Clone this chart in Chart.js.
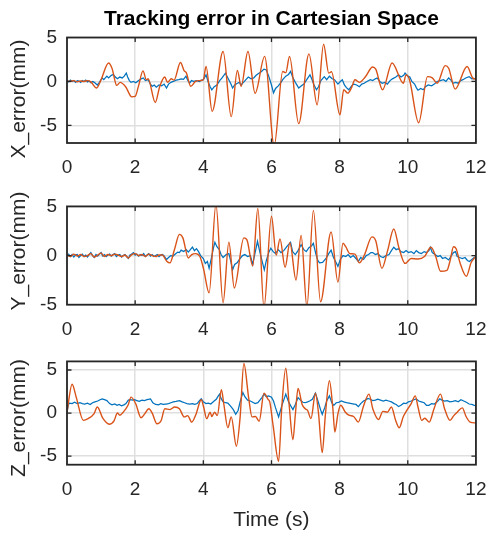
<!DOCTYPE html>
<html>
<head>
<meta charset="utf-8">
<script src="https://cdn.jsdelivr.net/npm/chart.js@4.4.1/dist/chart.umd.min.js"></script>
<style>
html,body{margin:0;padding:0;background:#fff;}
#wrap{position:relative;width:500px;height:533px;overflow:hidden;}
canvas{position:absolute;left:0;}
</style>
</head>
<body>
<div id="wrap">
<canvas id="c1" width="500" height="185" style="top:0px"></canvas>
<canvas id="c2" width="500" height="155" style="top:185px"></canvas>
<canvas id="c3" width="500" height="193" style="top:340px"></canvas>
</div>
<script>
// ---------- DATA ----------
const titleText = "Tracking error in Cartesian Space";
const xTicks = [0, 2, 4, 6, 8, 10, 12];
const yTicks = [-5, 0, 5];
const yLabels = ["X_error(mm)", "Y_error(mm)", "Z_error(mm)"];
const xLabel = "Time (s)";

// X error: orange series
const xOrangeT = [0,0.1,0.2,0.3,0.4,0.5,0.6,0.7,0.87,1.0,1.22,1.32,1.46,1.56,1.72,1.9,2.0,2.1,2.23,2.33,2.38,2.59,2.72,2.87,2.95,3.06,3.14,3.33,3.44,3.5,3.63,3.77,3.9,4.0,4.08,4.26,4.58,4.82,5.0,5.11,5.31,5.52,5.8,6.08,6.33,6.42,6.53,6.8,7.1,7.34,7.53,7.68,7.76,8.01,8.12,8.24,8.35,8.45,8.58,8.75,8.97,9.06,9.26,9.54,9.87,9.95,10.05,10.32,10.58,10.72,10.86,11.1,11.2,11.39,11.74,11.91,12];
const xOrangeV = [0.05,0.0,0.1,-0.05,0.05,0.0,0.1,-0.05,-0.75,0.2,2.1,1.5,-0.45,-0.1,-0.6,-1.75,-1.7,-0.5,1.2,0.2,0.3,-2.4,-0.6,0.5,-0.1,0.3,0.15,2.15,1.2,1.0,-0.55,0.0,0.1,0.2,1.7,-3.4,3.4,-4.0,1.25,-0.55,3.4,-1.35,2.85,-7.3,1.14,1.0,2.84,-4.8,3.14,-2.65,4.24,0.95,1.1,-3.8,-0.95,-1.33,-0.7,0.2,-0.1,0.5,1.65,1.4,-0.95,2.1,-0.2,0.75,0.2,-4.7,0.55,0.4,-0.2,1.8,1.5,-0.87,1.7,0.38,0.27];
// X error: blue series
const xBlueT = [0,0.05,0.1,0.15,0.2,0.25,0.3,0.35,0.4,0.45,0.5,0.55,0.6,0.65,0.7,0.75,0.8,0.89,0.95,1.03,1.08,1.17,1.22,1.3,1.36,1.42,1.48,1.55,1.62,1.68,1.74,1.78,1.83,1.88,1.95,2.02,2.1,2.18,2.24,2.3,2.38,2.45,2.5,2.56,2.62,2.7,2.78,2.85,2.92,2.98,3.05,3.12,3.2,3.28,3.35,3.42,3.49,3.55,3.6,3.65,3.72,3.8,3.88,3.95,4.0,4.08,4.14,4.2,4.25,4.32,4.4,4.48,4.55,4.65,4.72,4.8,4.86,4.92,5.0,5.06,5.1,5.18,5.25,5.32,5.4,5.48,5.55,5.62,5.7,5.78,5.85,5.92,6.0,6.06,6.12,6.2,6.28,6.33,6.42,6.5,6.56,6.62,6.7,6.8,6.88,6.95,7.05,7.13,7.18,7.25,7.32,7.38,7.45,7.55,7.62,7.7,7.78,7.85,7.95,8.02,8.08,8.14,8.2,8.27,8.35,8.42,8.5,8.58,8.65,8.72,8.8,8.9,8.97,9.05,9.1,9.18,9.25,9.32,9.4,9.48,9.55,9.65,9.73,9.8,9.88,9.92,10.0,10.06,10.12,10.2,10.25,10.3,10.38,10.45,10.52,10.6,10.7,10.78,10.86,10.95,11.05,11.12,11.2,11.28,11.33,11.4,11.48,11.55,11.62,11.7,11.8,11.88,12];
const xBlueV = [0.1,-0.05,0.15,0.0,0.1,-0.1,0.1,0.05,-0.1,0.1,0.0,0.15,-0.05,0.05,-0.15,0.0,-0.1,-0.4,-0.1,0.4,0.2,0.6,0.4,0.7,0.8,0.5,0.3,0.5,0.4,0.6,0.95,0.5,0.1,-0.1,0.0,-0.15,0.1,0.3,0.4,0.1,0.2,-0.3,-0.55,-0.4,-0.65,-0.4,-0.5,-0.3,-0.75,-0.3,-0.1,0.0,0.15,0.2,0.3,0.25,0.6,0.1,-0.2,0.1,0.0,0.1,0.0,0.15,0.2,0.75,0.0,-0.6,-0.95,-0.6,-0.4,0.1,0.4,0.95,0.4,-0.2,-0.75,-0.4,-0.2,-0.1,-0.4,-0.1,0.2,0.5,0.3,0.4,0.7,0.9,1.1,1.4,1.3,0.6,-0.4,-1.3,-0.8,-0.5,-0.1,0.2,0.6,0.8,1.15,0.5,-0.1,-0.75,-0.5,-0.3,0.3,0.75,0.3,-0.4,-0.95,-0.6,0.1,0.55,0.2,0.6,0.3,0.2,-0.3,0.0,0.2,-0.4,-0.7,-0.95,-0.5,-0.3,-0.4,-0.6,-0.3,-0.2,0.0,0.2,0.1,0.3,0.4,0.0,-0.2,-0.1,-0.3,0.1,0.3,0.5,0.75,0.5,0.7,0.95,0.6,0.5,0.0,-0.3,-0.7,-1.0,-0.8,-0.95,-0.6,-0.4,-0.5,-0.3,0.0,0.1,0.2,0.0,0.4,0.1,-0.2,-0.1,-0.2,0.1,0.2,0.4,0.55,0.3,0.35];

// Y error: orange series
const yOrangeT = [0,0.1,0.2,0.3,0.4,0.5,0.6,0.7,0.8,0.9,1.0,1.1,1.2,1.3,1.4,1.5,1.6,1.7,1.8,1.9,2.0,2.1,2.2,2.3,2.4,2.5,2.6,2.7,2.8,2.92,3.02,3.16,3.3,3.4,3.56,3.66,3.77,3.9,4.01,4.17,4.37,4.58,4.75,4.91,5.19,5.28,5.45,5.6,5.78,6.0,6.14,6.25,6.4,6.54,6.72,6.87,7.04,7.23,7.44,7.75,7.95,8.1,8.18,8.3,8.45,8.58,8.72,8.95,9.06,9.24,9.4,9.59,9.74,9.92,10.1,10.3,10.49,10.68,10.82,10.96,11.15,11.25,11.34,11.42,11.53,11.72,11.86,12];
const yOrangeV = [0.1,-0.1,0.15,-0.05,0.1,-0.1,0.0,0.2,-0.15,0.05,0.25,-0.1,0.1,0.0,0.15,0.05,-0.1,0.05,-0.25,0.1,0.2,0.0,0.1,-0.1,0.15,0.0,-0.1,0.05,0.05,-0.55,-0.75,0.7,2.15,1.8,-0.25,0.1,0.2,-0.1,-1.4,-3.8,5.2,-4.8,1.35,-3.3,1.8,1.6,-1.05,4.8,-5.3,4.0,0.05,1.7,-1.2,1.3,-2.5,2.05,-5.2,4.6,-4.7,2.4,-2.7,1.25,0.9,0.2,0.15,-0.75,0.0,1.9,1.5,-1.3,0.4,2.7,0.8,-0.8,-0.3,-0.35,-0.1,0.85,-0.1,-1.6,-1.5,-0.4,0.9,0.7,-0.7,-2.1,-0.7,-0.1];
// Y error: blue series
const yBlueT = [0,0.05,0.1,0.15,0.2,0.25,0.3,0.35,0.4,0.45,0.5,0.55,0.6,0.65,0.7,0.75,0.8,0.85,0.9,0.95,1.0,1.05,1.1,1.15,1.2,1.25,1.3,1.35,1.4,1.45,1.5,1.55,1.6,1.65,1.7,1.75,1.8,1.85,1.9,1.95,2.0,2.05,2.1,2.15,2.2,2.25,2.3,2.35,2.4,2.45,2.5,2.55,2.6,2.65,2.7,2.75,2.8,2.85,2.92,2.98,3.05,3.1,3.18,3.25,3.3,3.35,3.42,3.5,3.56,3.62,3.68,3.74,3.8,3.86,3.92,4.0,4.06,4.12,4.17,4.24,4.3,4.34,4.4,4.47,4.52,4.58,4.67,4.75,4.8,4.86,4.92,5.0,5.08,5.15,5.22,5.3,5.38,5.45,5.52,5.59,5.65,5.72,5.79,5.85,5.92,5.98,6.05,6.12,6.2,6.28,6.36,6.45,6.56,6.62,6.7,6.78,6.87,6.95,7.02,7.1,7.18,7.23,7.3,7.36,7.41,7.5,7.6,7.68,7.75,7.82,7.88,7.95,8.02,8.1,8.18,8.25,8.32,8.4,8.48,8.55,8.62,8.7,8.78,8.85,8.92,8.97,9.05,9.12,9.2,9.28,9.36,9.45,9.52,9.59,9.66,9.72,9.8,9.88,9.95,10.02,10.1,10.18,10.25,10.32,10.4,10.48,10.55,10.62,10.66,10.72,10.8,10.88,10.95,11.02,11.1,11.2,11.28,11.34,11.4,11.45,11.52,11.6,11.68,11.75,11.81,11.88,11.95,12];
const yBlueV = [0.0,0.15,-0.1,0.1,-0.15,0.05,0.1,-0.2,0.0,0.15,-0.1,0.05,-0.15,0.1,0.3,0.0,-0.2,0.1,-0.05,0.15,0.3,-0.05,0.1,-0.1,0.05,0.15,-0.05,0.1,0.2,-0.1,0.05,0.1,-0.15,0.0,0.1,-0.1,-0.3,0.05,0.15,0.3,0.05,0.15,-0.05,0.1,0.0,0.2,-0.1,0.05,0.2,-0.05,0.1,-0.1,0.0,0.1,-0.1,0.05,0.1,-0.05,-0.4,-0.2,0.0,-0.1,0.15,0.35,0.3,0.55,0.4,0.6,0.35,0.6,0.85,0.5,0.7,0.4,0.0,-0.3,-0.8,-0.6,-1.3,-0.2,0.8,1.35,0.9,0.6,0.1,-0.2,0.1,0.2,-0.5,-1.45,-0.9,-0.7,-0.3,0.0,0.1,-0.1,0.0,-0.9,0.3,1.45,0.5,-0.5,-1.45,-0.5,0.3,0.75,0.4,0.2,0.6,0.3,0.5,0.9,1.35,0.4,0.1,0.5,1.1,0.6,0.4,0.8,1.0,1.25,0.2,-0.5,-0.75,-0.7,-0.3,0.2,0.55,-0.2,-0.6,-1.1,-0.4,0.0,-0.1,0.1,-0.2,0.0,-0.3,-0.6,-0.2,-0.4,0.0,0.1,0.3,0.3,0.1,0.2,-0.1,-0.2,0.0,0.1,0.5,0.85,0.6,0.7,0.4,0.3,0.5,0.3,0.4,0.2,0.5,0.3,0.2,0.4,0.3,0.5,0.85,0.3,0.1,-0.1,0.0,-0.3,-0.2,-0.45,0.0,0.3,0.4,-0.1,-0.2,-0.3,-0.2,-0.5,-0.6,-0.4,-0.2,-0.1];

// Z error: orange series
const zOrangeT = [0,0.15,0.27,0.48,0.62,0.79,0.89,1.05,1.24,1.38,1.48,1.55,1.65,1.79,1.88,2.02,2.17,2.28,2.4,2.5,2.64,2.76,2.87,3.02,3.16,3.3,3.44,3.54,3.66,3.78,3.94,4.01,4.1,4.2,4.25,4.33,4.41,4.53,4.6,4.72,4.82,4.97,5.08,5.19,5.33,5.43,5.53,5.64,5.78,5.9,5.95,6.05,6.21,6.3,6.42,6.52,6.63,6.7,6.78,6.9,6.99,7.06,7.16,7.29,7.38,7.49,7.58,7.7,7.8,7.86,7.95,8.03,8.17,8.27,8.41,8.55,8.7,8.86,8.98,9.14,9.27,9.4,9.52,9.64,9.75,9.87,9.97,10.1,10.22,10.3,10.41,10.5,10.63,10.77,10.96,11.08,11.24,11.35,11.45,11.6,11.71,11.83,12];
const zOrangeV = [0.1,3.35,1.85,-0.85,-0.65,-0.1,0.7,-0.6,-1.3,-0.9,0.0,-0.25,0.1,0.9,1.85,1.05,-0.55,-0.1,0.5,0.0,-1.25,-0.9,0.5,0.4,0.7,0.5,-0.45,-0.3,-1.05,-0.2,1.55,0.7,-0.65,0.1,-0.4,0.1,-0.3,2.7,1.1,-1.7,-0.45,-3.85,-0.5,5.75,1.8,-0.45,-0.4,-0.95,2.3,1.6,1.3,-1.5,-5.6,0.5,5.2,0.9,-3.1,-0.2,2.85,1.0,0.5,0.3,-0.65,2.3,0.0,-4.6,-0.3,3.75,0.6,-2.2,-0.1,0.9,0.1,-0.25,-0.4,-1.05,0.8,2.2,0.4,-0.75,0.2,0.1,0.7,-0.8,-1.7,-0.4,0.3,1.1,2.0,0.7,-0.85,-0.6,-1.05,0.5,2.2,0.5,-0.85,-0.3,0.1,0.6,-0.4,-1.05,-1.15];
// Z error: blue series
const zBlueT = [0,0.04,0.08,0.15,0.22,0.3,0.38,0.45,0.52,0.6,0.68,0.75,0.82,0.9,0.97,1.03,1.1,1.17,1.25,1.32,1.4,1.47,1.53,1.6,1.67,1.73,1.8,1.86,1.93,1.98,2.05,2.12,2.2,2.27,2.35,2.45,2.52,2.6,2.69,2.75,2.82,2.9,2.98,3.05,3.12,3.2,3.3,3.38,3.45,3.52,3.6,3.68,3.75,3.82,3.88,3.94,4.0,4.08,4.15,4.22,4.3,4.38,4.44,4.48,4.52,4.58,4.65,4.72,4.8,4.88,4.95,5.02,5.08,5.16,5.22,5.3,5.38,5.45,5.52,5.6,5.66,5.72,5.78,5.85,5.92,6.0,6.06,6.12,6.21,6.3,6.36,6.42,6.5,6.57,6.63,6.7,6.78,6.85,6.92,6.99,7.06,7.12,7.2,7.29,7.38,7.44,7.49,7.56,7.62,7.7,7.77,7.83,7.9,7.97,8.05,8.12,8.2,8.28,8.35,8.42,8.48,8.55,8.62,8.7,8.76,8.83,8.9,8.97,9.05,9.12,9.2,9.28,9.36,9.44,9.52,9.6,9.66,9.73,9.8,9.88,9.95,10.02,10.1,10.18,10.25,10.32,10.4,10.48,10.55,10.62,10.7,10.78,10.86,10.94,11.0,11.08,11.16,11.24,11.32,11.4,11.48,11.56,11.64,11.72,11.8,11.88,11.95,12];
const zBlueV = [0.1,1.0,1.15,1.1,1.25,1.1,1.2,1.1,1.05,1.15,1.0,1.2,1.3,1.4,1.55,1.65,1.55,1.45,1.1,0.95,1.05,0.9,1.0,0.85,0.95,1.1,1.5,1.55,1.5,1.55,1.45,1.35,1.5,1.45,1.55,1.65,1.2,1.0,0.95,1.1,1.0,1.05,1.1,1.2,1.3,1.35,1.45,1.3,1.2,1.1,1.05,1.1,1.0,1.1,1.4,1.65,1.3,1.1,1.15,1.05,1.35,1.6,2.0,2.2,1.7,1.3,1.2,1.15,0.8,0.4,-0.15,0.3,1.3,2.4,1.9,1.5,1.4,1.25,1.1,1.2,1.5,1.8,2.2,1.9,2.0,1.85,1.4,0.6,-0.45,0.8,1.5,2.2,1.3,0.8,0.4,1.0,1.8,1.5,1.25,1.2,1.3,1.4,1.6,2.3,1.2,0.4,-0.15,0.6,1.4,2.0,1.2,0.9,1.2,1.25,1.4,1.3,1.2,1.15,1.1,1.05,1.0,0.75,1.1,1.4,1.5,1.7,1.6,1.45,1.5,1.6,1.5,1.4,1.5,1.4,1.3,1.1,1.0,0.75,0.9,1.15,1.1,1.3,1.4,1.55,1.65,1.4,1.3,1.2,0.9,0.9,1.1,1.05,1.3,1.65,1.5,1.4,1.45,1.3,1.35,1.45,1.3,1.55,1.4,1.25,1.05,1.0,0.9,0.85];

const yRanges = [[-7, 5], [-5, 5], [-6, 6]];

// ---------- STYLE ----------
const FONT = "'Liberation Sans', Arial, Helvetica, sans-serif";
const TXT = '#262626';
const ORANGE = '#D95319';
const BLUE = '#0072BD';
const yLabelCenters = [99, 66, 78]; // canvas-relative vertical centre of each y label

function pts(T, V) { return T.map((t, i) => ({x: t, y: V[i]})); }

const boxPlugin = {
  id: 'matlabBox',
  afterDraw(chart, args, o) {
    const {ctx, chartArea: a, scales} = chart;
    ctx.save();
    ctx.strokeStyle = TXT;
    ctx.lineWidth = 1.3;
    const L = 4.5;
    ctx.beginPath();
    scales.x.ticks.forEach(tk => {
      const px = scales.x.getPixelForValue(tk.value);
      if (px <= a.left + 1 || px >= a.right - 1) return;
      ctx.moveTo(px, a.bottom); ctx.lineTo(px, a.bottom - L);
      ctx.moveTo(px, a.top); ctx.lineTo(px, a.top + L);
    });
    scales.y.ticks.forEach(tk => {
      const py = scales.y.getPixelForValue(tk.value);
      if (py <= a.top + 1 || py >= a.bottom - 1) return;
      ctx.moveTo(a.left, py); ctx.lineTo(a.left + L, py);
      ctx.moveTo(a.right, py); ctx.lineTo(a.right - L, py);
    });
    ctx.stroke();
    ctx.lineWidth = 1.8;
    ctx.strokeRect(a.left, a.top, a.right - a.left, a.bottom - a.top);
    // y label
    ctx.translate(19, o.labelY);
    ctx.rotate(-Math.PI / 2);
    ctx.fillStyle = TXT;
    ctx.font = "21px " + FONT;
    ctx.textAlign = 'center';
    ctx.textBaseline = 'middle';
    ctx.fillText(o.label, 0, 0);
    ctx.restore();
  }
};

function makeChart(id, idx, orangeData, blueData, opts) {
  const [ymin, ymax] = yRanges[idx];
  return new Chart(document.getElementById(id), {
    type: 'line',
    data: {
      datasets: [
        { data: orangeData, borderColor: ORANGE, borderWidth: 1.4, pointRadius: 0, cubicInterpolationMode: 'monotone', fill: false },
        { data: blueData, borderColor: BLUE, borderWidth: 1.25, pointRadius: 0, tension: 0, fill: false }
      ]
    },
    options: {
      responsive: false,
      animation: false,
      devicePixelRatio: 1,
      layout: { padding: { top: opts.padTop, right: 10, left: 0, bottom: 0 } },
      plugins: {
        legend: { display: false },
        tooltip: { enabled: false },
        matlabBox: { label: yLabels[idx], labelY: yLabelCenters[idx] },
        title: opts.title ? {
          display: true, text: titleText, fullSize: false, color: '#000',
          font: { family: FONT, size: 21, weight: 'bold', lineHeight: 1.2 },
          padding: { top: 6.6, bottom: 5.7 }
        } : { display: false }
      },
      scales: {
        x: {
          type: 'linear', min: 0, max: 12,
          afterBuildTicks: s => { s.ticks = xTicks.map(v => ({value: v})); },
          afterFit: s => { s.height = opts.xHeight; },
          ticks: { color: TXT, font: { family: FONT, size: 19, lineHeight: 1.2 }, padding: 13.5, maxRotation: 0, autoSkip: false },
          grid: { color: '#dfdfdf', lineWidth: 1.5, drawTicks: false },
          border: { display: false },
          title: opts.xTitle ? { display: true, text: xLabel, color: TXT, font: { family: FONT, size: 21, lineHeight: 1.2 }, padding: { top: 0, bottom: 0 } } : { display: false }
        },
        y: {
          type: 'linear', min: ymin, max: ymax,
          afterBuildTicks: s => { s.ticks = yTicks.map(v => ({value: v})); },
          afterFit: s => { s.width = 67; },
          ticks: { color: TXT, font: { family: FONT, size: 19, lineHeight: 1.2 }, padding: 10 },
          grid: { color: '#dfdfdf', lineWidth: 1.5, drawTicks: false },
          border: { display: false },
          title: { display: false }
        }
      }
    },
    plugins: [boxPlugin]
  });
}

makeChart('c1', 0, pts(xOrangeT, xOrangeV), pts(xBlueT, xBlueV), { padTop: 0, xHeight: 42, title: true });
makeChart('c2', 1, pts(yOrangeT, yOrangeV), pts(yBlueT, yBlueV), { padTop: 15, xHeight: 35.3 });
makeChart('c3', 2, pts(zOrangeT, zOrangeV), pts(zBlueT, zBlueV), { padTop: 21, xHeight: 68.3, xTitle: true });
</script>
</body>
</html>
